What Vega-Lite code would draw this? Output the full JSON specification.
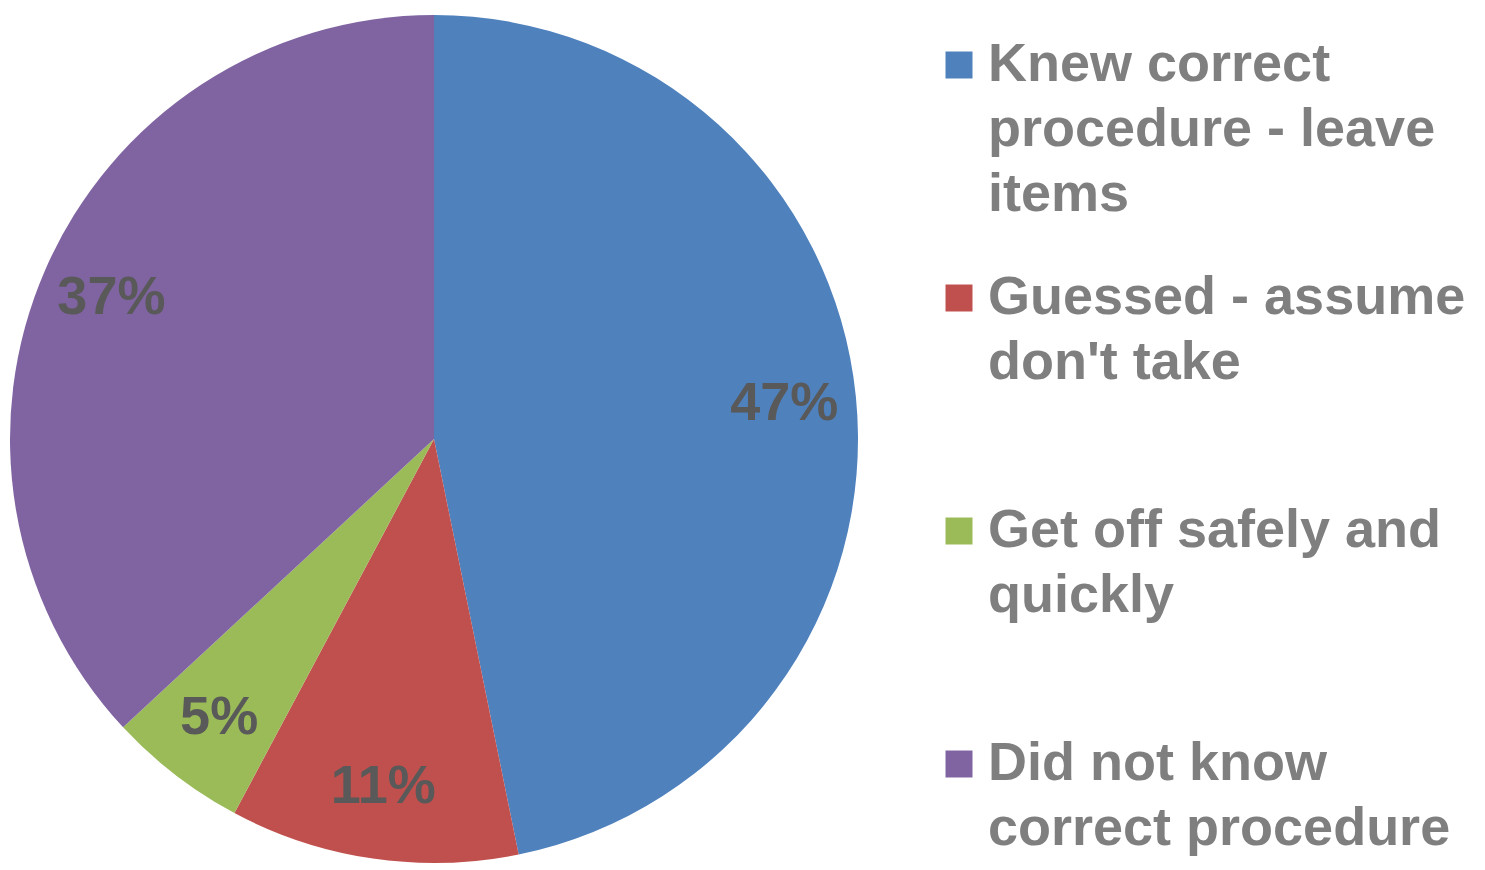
{
  "$schema": "https://vega.github.io/schema/vega-lite/v6.json",
  "width": 868,
  "height": 878,
  "padding": 0,
  "autosize": {"type": "pad"},
  "background": "white",
  "config": {
    "view": {"stroke": null},
    "style": {"guide-label": {"lineHeight": 65}}
  },
  "data": {
    "values": [
      {"category": "Knew correct|procedure - leave|items", "share": 0.468, "order": 1},
      {"category": "Guessed - assume|don't take| ", "share": 0.110, "order": 2},
      {"category": "Get off safely and|quickly| ", "share": 0.053, "order": 3},
      {"category": "Did not know|correct procedure| ", "share": 0.369, "order": 4}
    ]
  },
  "encoding": {
    "theta": {"field": "share", "type": "quantitative", "stack": true},
    "order": {"field": "order", "type": "quantitative"},
    "color": {
      "field": "category",
      "type": "nominal",
      "sort": {"field": "order"},
      "scale": {
        "domain": ["Knew correct|procedure - leave|items", "Guessed - assume|don't take| ", "Get off safely and|quickly| ", "Did not know|correct procedure| "],
        "range": ["#4F81BD", "#C0504D", "#9BBB59", "#8064A2"]
      },
      "legend": {
        "orient": "none",
        "legendX": 932,
        "legendY": 38,
        "title": null,
        "symbolType": "square",
        "symbolSize": 729,
        "symbolStrokeWidth": 0,
        "symbolOpacity": 1,
        "labelExpr": "split(datum.label, '|')",
        "labelFont": "Liberation Sans",
        "labelFontSize": 54,
        "labelFontWeight": "bold",
        "labelColor": "#7F7F7F",
        "labelBaseline": "middle",
        "labelLimit": 700,
        "labelOffset": 2,
        "rowPadding": 49,
        "padding": 0,
        "encode": {"labels": {"enter": {"lineHeight": {"value": 65}}, "update": {"lineHeight": {"value": 65}}}}
      }
    }
  },
  "layer": [
    {"mark": {"type": "arc", "outerRadius": 424, "stroke": null}},
    {
      "mark": {"type": "text", "radius": 352, "font": "Liberation Sans", "fontSize": 54, "fontWeight": "bold"},
      "encoding": {
        "text": {"field": "share", "type": "quantitative", "format": ".0%"},
        "color": {"value": "#595959"}
      }
    }
  ]
}
